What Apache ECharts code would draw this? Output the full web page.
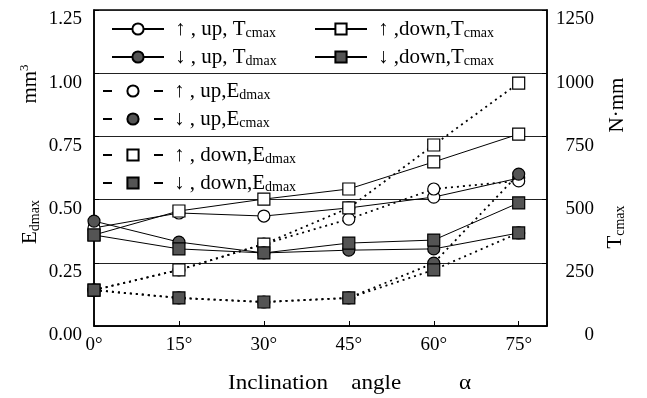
<!DOCTYPE html>
<html>
<head>
<meta charset="utf-8">
<script src="https://cdn.jsdelivr.net/npm/echarts@6/dist/echarts.min.js"></script>
<style>
  html, body { margin: 0; padding: 0; background: #fff; }
  #chart { width: 647px; height: 398px; }
</style>
</head>
<body>
<div id="chart"></div>
<script>
// inclination angle, degrees
var angles = [0, 15, 30, 45, 60, 75];
var xTicks = [0, 15, 30, 45, 60, 75];

// torque, N·mm (right axis)
var tUpRise   = [388, 447, 435, 467, 510, 585];   // ↑, up, Tcmax
var tUpFall   = [415, 332, 289, 300, 305, 368];   // ↓, up, Tdmax
var tDownRise = [360, 455, 502, 542, 649, 759];   // ↑, down, Tcmax
var tDownFall = [360, 305, 289, 328, 340, 487];   // ↓, down, Tcmax

// energy, mm3 (left axis)
var eUpRise   = [0.142, 0.222, 0.324, 0.423, 0.542, 0.574];  // ↑, up, Edmax
var eUpFall   = [0.142, 0.111, 0.095, 0.111, 0.249, 0.601];  // ↓, up, Ecmax
var eDownRise = [0.142, 0.222, 0.324, 0.467, 0.716, 0.961];  // ↑, down, Edmax
var eDownFall = [0.142, 0.111, 0.095, 0.111, 0.222, 0.368];  // ↓, down, Edmax

var legendText = {
  s1: '↑ , up, T{s|cmax}',
  s2: '↓ , up, T{s|dmax}',
  s3: '↑ ,down,T{s|cmax}',
  s4: '↓ ,down,T{s|cmax}',
  s5: '↑ , up,E{s|dmax}',
  s6: '↓ , up,E{s|cmax}',
  s7: '↑ , down,E{s|dmax}',
  s8: '↓ , down,E{s|dmax}'
};

var SERIF = '"Liberation Serif", "Times New Roman", serif';
var FILL = '#545454';

function pairs(vals) {
  return angles.map(function (a, i) { return [a, vals[i]]; });
}

function mk(name, vals, axis, symbol, filled, dotted) {
  return {
    name: name,
    type: 'line',
    yAxisIndex: axis,
    data: pairs(vals),
    symbol: symbol === 'circle' ? 'circle' : 'rect',
    symbolSize: 12,
    showAllSymbol: true,
    clip: false,
    z: filled ? 3 : 2,
    lineStyle: dotted
      ? { color: '#000', width: 1.8, type: [2, 4] }
      : { color: '#000', width: 1 },
    itemStyle: { color: filled ? FILL : '#fff', borderColor: '#000', borderWidth: 1.2 },
    emphasis: { disabled: true },
    animation: false
  };
}

var rich = {
  s: { fontFamily: SERIF, fontSize: 14, padding: [9, 0, 0, 0] }
};

function legendBlock(names, left, top, dotted, width) {
  return {
    orient: 'vertical',
    left: left,
    top: top,
    itemGap: 4,
    itemWidth: width,
    itemHeight: 14,
    selectedMode: false,
    data: names.map(function (n) {
      return dotted
        ? { name: n, lineStyle: { type: [9, width - 18], width: 2 } }
        : { name: n };
    }),
    formatter: function (n) { return legendText[n]; },
    textStyle: {
      fontFamily: SERIF, fontSize: 21, color: '#000', rich: rich, lineHeight: 24,
      padding: [0, 0, 0, 6]
    }
  };
}

var chart = echarts.init(document.getElementById('chart'));

chart.setOption({
  animation: false,
  backgroundColor: '#fff',
  grid: { left: 94, right: 100, top: 10, bottom: 72, show: true, borderColor: '#000', borderWidth: 1.5 },
  legend: [
    legendBlock(['s1', 's2'], 106, 12, false, 52),
    legendBlock(['s3', 's4'], 309, 12, false, 52),
    legendBlock(['s5', 's6'], 97, 74, true, 60),
    legendBlock(['s7', 's8'], 97, 138, true, 60)
  ],
  xAxis: {
    type: 'value',
    min: 0,
    max: 80,
    interval: 15,
    axisLine: { lineStyle: { color: '#000', width: 1.5 } },
    axisTick: { inside: true, length: 5, lineStyle: { color: '#000' } },
    splitLine: { show: false },
    axisLabel: {
      color: '#000', fontFamily: SERIF, fontSize: 19, margin: 10,
      formatter: function (v) { return xTicks.indexOf(v) >= 0 ? v + '°' : ''; }
    }
  },
  yAxis: [
    {
      type: 'value', min: 0, max: 1.25, interval: 0.25, position: 'left',
      axisLine: { show: true, lineStyle: { color: '#000', width: 1.5 } },
      axisTick: { show: true, inside: true, length: 5, lineStyle: { color: '#000' } },
      splitLine: { show: true, lineStyle: { color: '#222', width: 1 } },
      axisLabel: {
        color: '#000', fontFamily: SERIF, fontSize: 19, margin: 12, verticalAlign: 'top',
        formatter: function (v) { return v.toFixed(2); }
      }
    },
    {
      type: 'value', min: 0, max: 1250, interval: 250, position: 'right',
      axisLine: { show: true, lineStyle: { color: '#000', width: 1.5 } },
      axisTick: { show: true, inside: true, length: 5, lineStyle: { color: '#000' } },
      splitLine: { show: false },
      axisLabel: {
        color: '#000', fontFamily: SERIF, fontSize: 19, margin: 47, align: 'right', verticalAlign: 'top',
        formatter: function (v) { return String(v); }
      }
    }
  ],
  graphic: [
    { type: 'text', x: 30, y: 84, rotation: Math.PI / 2,
      style: { text: '{b|mm}{p|3}', align: 'center', verticalAlign: 'middle',
        rich: { b: { fontFamily: SERIF, fontSize: 21, fill: '#000' },
                p: { fontFamily: SERIF, fontSize: 13, fill: '#000', padding: [0, 0, 10, 0] } } } },
    { type: 'text', x: 30, y: 222, rotation: Math.PI / 2,
      style: { text: '{b|E}{s|dmax}', align: 'center', verticalAlign: 'middle',
        rich: { b: { fontFamily: SERIF, fontSize: 21, fill: '#000' },
                s: { fontFamily: SERIF, fontSize: 14, fill: '#000', padding: [10, 0, 0, 0] } } } },
    { type: 'text', x: 617, y: 105, rotation: Math.PI / 2,
      style: { text: 'N·mm', align: 'center', verticalAlign: 'middle',
        font: '21px ' + SERIF, fill: '#000' } },
    { type: 'text', x: 615, y: 227, rotation: Math.PI / 2,
      style: { text: '{b|T}{s|cmax}', align: 'center', verticalAlign: 'middle',
        rich: { b: { fontFamily: SERIF, fontSize: 21, fill: '#000' },
                s: { fontFamily: SERIF, fontSize: 14, fill: '#000', padding: [10, 0, 0, 0] } } } },
    { type: 'text', x: 228, y: 383, scaleX: 1.1,
      style: { text: 'Inclination    angle          α', verticalAlign: 'middle',
        font: '21px ' + SERIF, fill: '#000' } }
  ],
  series: [
    mk('s1', tUpRise, 1, 'circle', false, false),
    mk('s2', tUpFall, 1, 'circle', true, false),
    mk('s3', tDownRise, 1, 'rect', false, false),
    mk('s4', tDownFall, 1, 'rect', true, false),
    mk('s5', eUpRise, 0, 'circle', false, true),
    mk('s6', eUpFall, 0, 'circle', true, true),
    mk('s7', eDownRise, 0, 'rect', false, true),
    mk('s8', eDownFall, 0, 'rect', true, true)
  ]
});
</script>
</body>
</html>
